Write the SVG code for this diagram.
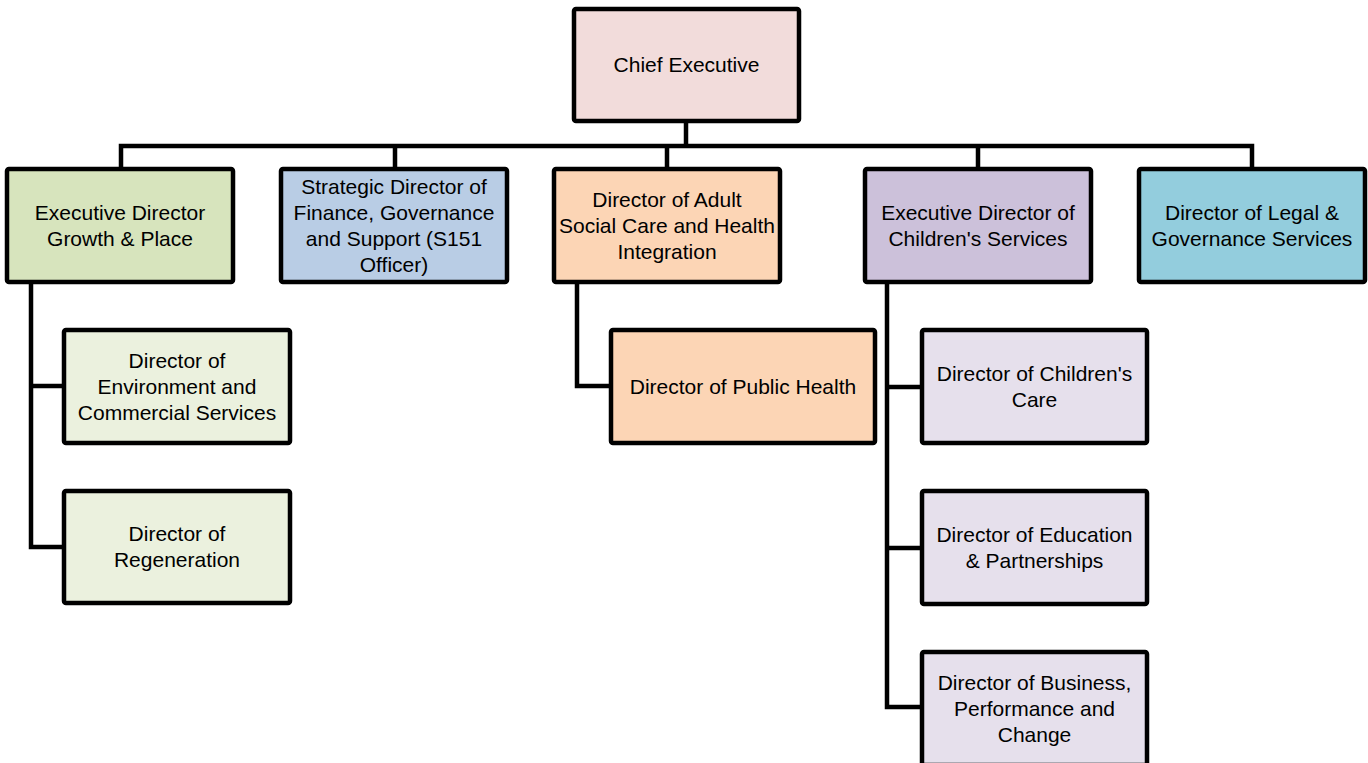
<svg xmlns="http://www.w3.org/2000/svg" width="1368" height="763" viewBox="0 0 1368 763">
<style>
.box{stroke:#000;stroke-width:4.5;}
.t{font-family:"Liberation Sans",Arial,sans-serif;font-size:21px;fill:#000;text-anchor:middle;}
.ln{fill:none;stroke:#000;stroke-width:4.5;stroke-linejoin:miter;}
</style>
<rect width="1368" height="763" fill="#fff"/>
<g id="connectors">
<path class="ln" d="M686 123V146"/>
<path class="ln" d="M121 167V146H1252V167"/>
<path class="ln" d="M395 146V167M667 146V167M978 146V167"/>
<path class="ln" d="M31 284V547H62M31 386H62"/>
<path class="ln" d="M577 284V386H609"/>
<path class="ln" d="M887 284V707H920M887 387H920M887 548H920"/>
</g>
<g id="chief-executive">
<rect class="box" x="574" y="9" width="225" height="112" rx="2" fill="#f2dcdb"/>
<text class="t" x="686.5" y="72">Chief Executive</text>
</g>
<g id="exec-growth">
<rect class="box" x="7" y="169" width="226" height="113" rx="2" fill="#d7e4bd"/>
<text class="t" x="120" y="219.5">Executive Director</text>
<text class="t" x="120" y="245.5">Growth &amp; Place</text>
</g>
<g id="strategic-finance">
<rect class="box" x="281" y="169" width="226" height="113" rx="2" fill="#b9cde5"/>
<text class="t" x="394" y="193.5">Strategic Director of</text>
<text class="t" x="394" y="219.5">Finance, Governance</text>
<text class="t" x="394" y="245.5">and Support (S151</text>
<text class="t" x="394" y="271.5">Officer)</text>
</g>
<g id="adult-social-care">
<rect class="box" x="554" y="169" width="226" height="113" rx="2" fill="#fcd5b5"/>
<text class="t" x="667" y="206.5">Director of Adult</text>
<text class="t" x="667" y="232.5">Social Care and Health</text>
<text class="t" x="667" y="258.5">Integration</text>
</g>
<g id="exec-children">
<rect class="box" x="865" y="169" width="226" height="113" rx="2" fill="#ccc1da"/>
<text class="t" x="978" y="219.5">Executive Director of</text>
<text class="t" x="978" y="245.5">Children's Services</text>
</g>
<g id="legal">
<rect class="box" x="1139" y="169" width="226" height="113" rx="2" fill="#93cddd"/>
<text class="t" x="1252" y="219.5">Director of Legal &amp;</text>
<text class="t" x="1252" y="245.5">Governance Services</text>
</g>
<g id="environment">
<rect class="box" x="64" y="330" width="226" height="113" rx="2" fill="#ebf1de"/>
<text class="t" x="177" y="367.5">Director of</text>
<text class="t" x="177" y="393.5">Environment and</text>
<text class="t" x="177" y="419.5">Commercial Services</text>
</g>
<g id="regeneration">
<rect class="box" x="64" y="491" width="226" height="112" rx="2" fill="#ebf1de"/>
<text class="t" x="177" y="541">Director of</text>
<text class="t" x="177" y="567">Regeneration</text>
</g>
<g id="public-health">
<rect class="box" x="611" y="330" width="264" height="113" rx="2" fill="#fcd5b5"/>
<text class="t" x="743" y="393.5">Director of Public Health</text>
</g>
<g id="childrens-care">
<rect class="box" x="922" y="330" width="225" height="113" rx="2" fill="#e6e0ec"/>
<text class="t" x="1034.5" y="380.5">Director of Children's</text>
<text class="t" x="1034.5" y="406.5">Care</text>
</g>
<g id="education">
<rect class="box" x="922" y="491" width="225" height="113" rx="2" fill="#e6e0ec"/>
<text class="t" x="1034.5" y="541.5">Director of Education</text>
<text class="t" x="1034.5" y="567.5">&amp; Partnerships</text>
</g>
<g id="business">
<rect class="box" x="922" y="652" width="225" height="113" rx="2" fill="#e6e0ec"/>
<text class="t" x="1034.5" y="689.5">Director of Business,</text>
<text class="t" x="1034.5" y="715.5">Performance and</text>
<text class="t" x="1034.5" y="741.5">Change</text>
</g>
</svg>
